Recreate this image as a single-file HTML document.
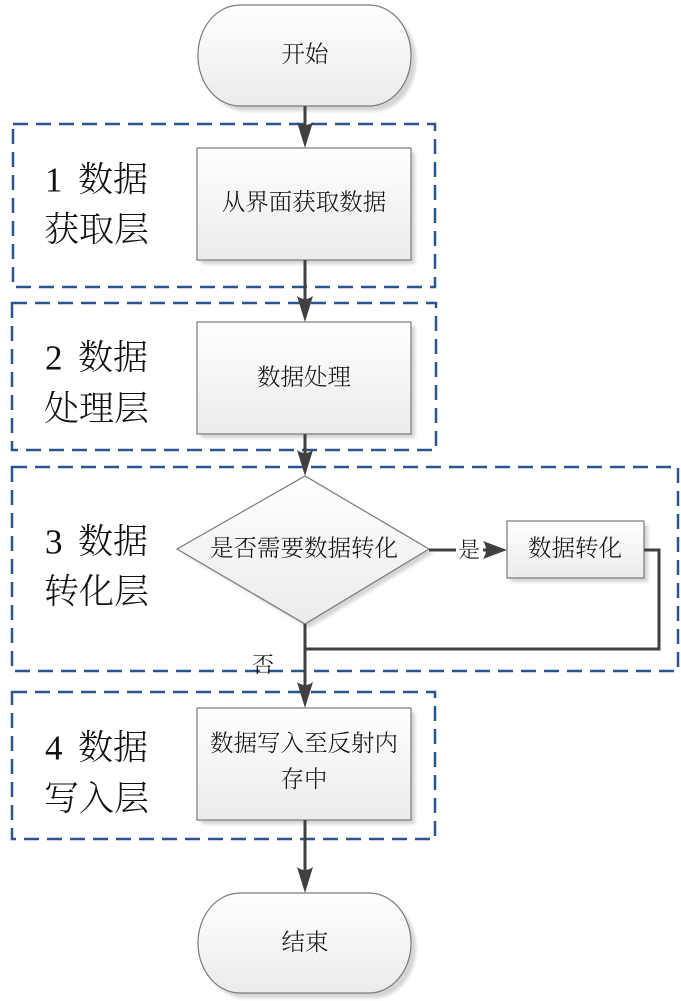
<!DOCTYPE html>
<html><head><meta charset="utf-8"><style>
html,body{margin:0;padding:0;background:#fff;}
svg{display:block;}
text{font-family:"Liberation Serif","Noto Serif CJK SC","Noto Sans CJK SC",serif;fill:#111;font-weight:300;}
</style></head><body>
<svg width="681" height="1001" viewBox="0 0 681 1001" xmlns="http://www.w3.org/2000/svg">
<defs>
<linearGradient id="g" x1="0" y1="0" x2="0" y2="1">
<stop offset="0" stop-color="#ffffff"/><stop offset="1" stop-color="#ebebeb"/>
</linearGradient>
<filter id="b" x="-10%" y="-10%" width="130%" height="130%"><feGaussianBlur stdDeviation="1.5"/></filter>
</defs>

<!-- dashed layer boxes -->
<g fill="none" stroke="#2b5590" stroke-width="2.5" stroke-dasharray="15 8">
<rect x="13" y="124" width="422" height="163"/>
<rect x="12" y="303" width="424" height="147"/>
<rect x="12" y="467" width="666" height="204"/>
<rect x="12" y="692" width="423" height="147"/>
</g>

<!-- shadows -->
<g fill="#d4d4d4" filter="url(#b)">
<rect x="203" y="10" width="213" height="101" rx="42" ry="50"/>
<rect x="201" y="152" width="214" height="112"/>
<rect x="201" y="326" width="214" height="112"/>
<polygon points="182,553 309,480 433,553 309,628"/>
<rect x="511" y="525" width="137" height="57"/>
<rect x="201" y="712" width="214" height="112"/>
<rect x="203" y="898" width="213" height="100" rx="42" ry="50"/>
</g>

<!-- shapes -->
<g fill="url(#g)" stroke="#7a7a7a" stroke-width="1.2">
<rect x="198" y="5" width="213" height="101" rx="42" ry="50"/>
<rect x="197" y="148" width="214" height="112"/>
<rect x="197" y="322" width="214" height="112"/>
<polygon points="177,549 305,476 429,549 305,624"/>
<rect x="507" y="521" width="137" height="57"/>
<rect x="197" y="708" width="214" height="112"/>
<rect x="198" y="893" width="213" height="100" rx="42" ry="50"/>
</g>

<!-- connectors -->
<g stroke="#404040" stroke-width="3" fill="none">
<line x1="305" y1="106" x2="305" y2="130"/>
<line x1="305" y1="260" x2="305" y2="304"/>
<line x1="305" y1="434" x2="305" y2="458"/>
<line x1="305" y1="624" x2="305" y2="690"/>
<line x1="429" y1="550" x2="456" y2="550"/>
<line x1="483" y1="550" x2="490" y2="550"/>
<polyline points="644,550 659,550 659,649 305,649"/>
<line x1="305" y1="820" x2="305" y2="875"/>
</g>
<g fill="#404040">
<path d="M297,122 Q305,128 313,122 L305,148 Z"/>
<path d="M297,296 Q305,302 313,296 L305,322 Z"/>
<path d="M297,450 Q305,456 313,450 L305,476 Z"/>
<path d="M297,682 Q305,688 313,682 L305,708 Z"/>
<path d="M483,541 Q489,550 483,559 L507,550 Z"/>
<path d="M297,867 Q305,873 313,867 L305,893 Z"/>
</g>

<!-- layer labels -->
<g font-size="35" dominant-baseline="central">
<text x="45" y="180">1</text><text x="78" y="180">数据</text>
<text x="44" y="230">获取层</text>
<text x="45" y="358">2</text><text x="78" y="358">数据</text>
<text x="44" y="409">处理层</text>
<text x="45" y="542">3</text><text x="78" y="542">数据</text>
<text x="44" y="592">转化层</text>
<text x="45" y="748">4</text><text x="78" y="748">数据</text>
<text x="44" y="799">写入层</text>
</g>

<!-- shape text -->
<g font-size="23.5" text-anchor="middle" dominant-baseline="central">
<text x="305" y="55">开始</text>
<text x="304" y="203">从界面获取数据</text>
<text x="304" y="378">数据处理</text>
<text x="304" y="549">是否需要数据转化</text>
<text x="575" y="549">数据转化</text>
<text x="304" y="744">数据写入至反射内</text>
<text x="304" y="780">存中</text>
<text x="305" y="943">结束</text>
<text x="469" y="550" font-size="22">是</text>
<text x="263" y="665" font-size="22">否</text>
</g>
</svg>
</body></html>
